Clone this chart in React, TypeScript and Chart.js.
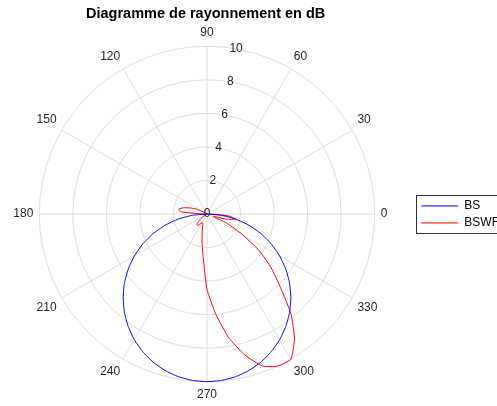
import React, { useEffect, useRef } from 'react';
import { Chart, registerables } from 'chart.js';

Chart.register(...registerables);

const TITLE = 'Diagramme de rayonnement en dB';
const SERIES_NAMES = ['BS', 'BSWF'];

// Angle grid (degrees, counter-clockwise from the right)
const ANGLES = [
  0, 5, 10, 15, 20, 25, 30, 35, 40, 45, 50, 55, 60, 65, 70, 75, 80, 85,
  90, 95, 100, 105, 110, 115, 120, 125, 130, 135, 140, 145, 150, 155, 160, 165, 170, 175,
  180, 185, 190, 195, 200, 205, 210, 215, 220, 225, 230, 235, 240, 245, 250, 255, 260, 265,
  270, 275, 280, 285, 290, 295, 300, 305, 310, 315, 320, 325, 330, 335, 340, 345, 350, 355,
];

// BS (blue) radius in dB, one value per angle above
const BS = [
  0, 0, 0, 0, 0, 0, 0, 0, 0, 0, 0, 0, 0, 0, 0, 0, 0, 0,
  0, 0, 0, 0, 0, 0, 0, 0, 0, 0, 0, 0, 0, 0, 0, 0, 0, 0,
  0, 0.87, 1.74, 2.59, 3.42, 4.23, 5.0, 5.74, 6.43, 7.07, 7.66, 8.19, 8.66, 9.06, 9.4, 9.66, 9.85, 9.96,
  10, 9.96, 9.85, 9.66, 9.4, 9.06, 8.66, 8.19, 7.66, 7.07, 6.43, 5.74, 5.0, 4.23, 3.42, 2.59, 1.74, 0.87,
];

// BSWF (red) radius in dB, one value per angle above
const BSWF = [
  0.2, 0, 0, 0, 0, 0, 0, 0, 0, 0, 0, 0, 0, 0, 0, 0, 0, 0,
  0, 0, 0, 0, 0, 0, 0, 0, 0, 0, 0, 0, 0.25, 0.7, 1.05, 1.45, 1.7, 1.6,
  0.3, 0, 0, 0, 0, 0, 0, 0.3, 0.6, 0.85, 0.9, 0.75, 0.6, 0.6, 0.75, 1.1, 1.7, 2.6,
  4.5, 6.0, 7.5, 8.7, 9.65, 10, 10, 9.1, 7.8, 6.2, 5.0, 3.8, 2.4, 1.3, 0.4, 1.2, 1.75, 1.3,
];

const R_TICKS = [0, 2, 4, 6, 8, 10];
const R_TICK_ANGLE = 80;
const ANGLE_LABELS = [0, 30, 60, 90, 120, 150, 180, 210, 240, 270, 300, 330];

const TEXT = '#262626';
const GRID = '#dedede';
const FONT = "'Liberation Sans', Arial, Helvetica, sans-serif";

// radar goes clockwise from the top, so order the angles accordingly
const cw = (a: number) => (450 - a) % 360;
const RADAR_ANGLES = [...ANGLES].sort((a, b) => cw(a) - cw(b));
const RADAR_LABELS = RADAR_ANGLES.map(String);
const pick = (arr: number[]) => RADAR_ANGLES.map((a) => arr[ANGLES.indexOf(a)]);
const isMajor = (i: number) => ANGLE_LABELS.includes(RADAR_ANGLES[i]);

const rTickPlugin = {
  id: 'rTickPlugin',
  afterDraw(chart: any) {
    const s = chart.scales.r;
    const ctx = chart.ctx;
    const idx = RADAR_LABELS.indexOf(String(R_TICK_ANGLE));
    ctx.save();
    ctx.font = `12px ${FONT}`;
    ctx.fillStyle = TEXT;
    ctx.textAlign = 'center';
    ctx.textBaseline = 'middle';
    R_TICKS.forEach((v) => {
      const p = s.getPointPositionForValue(idx, v);
      ctx.fillText(String(v), p.x, p.y);
    });
    ctx.restore();
  },
};

const legendBoxPlugin = {
  id: 'legendBoxPlugin',
  afterDraw(chart: any) {
    const lg = chart.legend;
    if (!lg || !lg.legendHitBoxes || !lg.legendHitBoxes.length) return;
    const hb = lg.legendHitBoxes;
    const first = hb[0];
    const last = hb[hb.length - 1];
    const left = Math.round(first.left - 5) + 0.5;
    const top = Math.round(first.top - 5) + 0.5;
    const bottom = Math.round(last.top + last.height + 4) + 0.5;
    const right = Math.round(lg.right) + 0.5;
    const ctx = chart.ctx;
    ctx.save();
    ctx.strokeStyle = '#333333';
    ctx.lineWidth = 1;
    ctx.strokeRect(left, top, right - left, bottom - top);
    ctx.restore();
  },
};

export default function App() {
  const ref = useRef<HTMLCanvasElement>(null);
  useEffect(() => {
    if (!ref.current) return;
    Chart.defaults.font.family = FONT;
    const chart = new Chart(ref.current, {
      type: 'radar',
      data: {
        labels: RADAR_LABELS,
        datasets: [
          {
            label: SERIES_NAMES[0],
            data: pick(BS),
            borderColor: '#0000ff',
            backgroundColor: 'transparent',
            borderWidth: 1,
            pointRadius: 0,
            fill: false,
            tension: 0.15,
          },
          {
            label: SERIES_NAMES[1],
            data: pick(BSWF),
            borderColor: '#ff0000',
            backgroundColor: 'transparent',
            borderWidth: 1,
            pointRadius: 0,
            fill: false,
            tension: 0.15,
          },
        ],
      },
      options: {
        animation: false,
        responsive: false,
        layout: { padding: { left: 0, right: 6, top: 0, bottom: 3 } },
        plugins: {
          title: {
            display: true,
            text: TITLE,
            color: '#000',
            fullSize: false,
            font: { size: 14.5, weight: 'bold', family: FONT },
            padding: { top: 5.5, bottom: 3 },
          },
          legend: {
            position: 'right',
            fullSize: false,
            labels: {
              usePointStyle: true,
              pointStyle: 'line',
              pointStyleWidth: 37,
              color: '#000',
              font: { size: 12, family: FONT },
              padding: 5,
            },
          },
          tooltip: { enabled: false },
        },
        scales: {
          r: {
            min: 0,
            max: 10,
            ticks: { display: false, stepSize: 2 },
            grid: { circular: true, color: GRID, lineWidth: 1 },
            angleLines: {
              display: true,
              lineWidth: 1,
              color: (c: any) => (isMajor(c.index) ? GRID : 'rgba(0,0,0,0)'),
            },
            pointLabels: {
              display: true,
              color: TEXT,
              padding: 6,
              font: { size: 12, family: FONT },
              callback: (label: string) => (ANGLE_LABELS.includes(Number(label)) ? label : ''),
            },
          },
        },
      } as any,
      plugins: [rTickPlugin, legendBoxPlugin],
    });
    return () => chart.destroy();
  }, []);

  return (
    <div
      style={{
        position: 'fixed',
        left: 0,
        top: 0,
        width: 497,
        height: 406,
        overflow: 'hidden',
        background: '#fff',
      }}
    >
      <canvas
        ref={ref}
        width={520}
        height={406}
        style={{ display: 'block', position: 'relative', left: -5, width: 520, height: 406 }}
      />
    </div>
  );
}
